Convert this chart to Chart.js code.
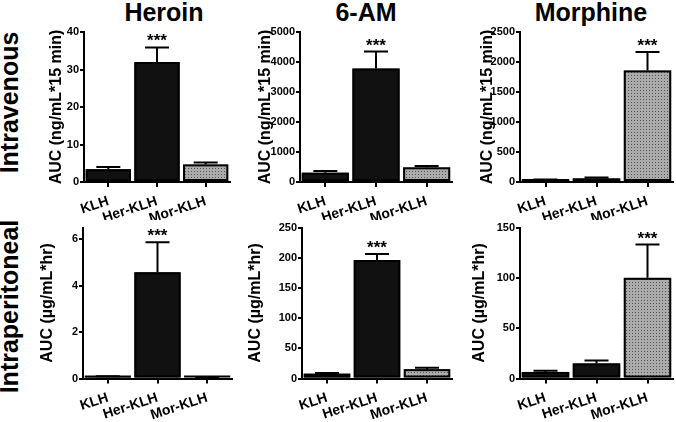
<!DOCTYPE html>
<html>
<head>
<meta charset="utf-8">
<script src="https://cdn.jsdelivr.net/npm/chart.js@4.4.1/dist/chart.umd.min.js"></script>
<style>
  body { margin: 0; background: #fff; }
  #wrap { position: relative; width: 676px; height: 422px; overflow: hidden;
          font-family: "Liberation Sans", Arial, sans-serif; color: #000; }
  #wrap canvas { position: absolute; }
  .col { position: absolute; top: 0; width: 160px; text-align: center;
         font-weight: bold; font-size: 25px; line-height: 25px; }
  .row { position: absolute; width: 220px; height: 25px; text-align: center;
         font-weight: bold; font-size: 25px; line-height: 25px; transform: rotate(-90deg); }
</style>
</head>
<body>
<div id="wrap">
  <div class="col" style="left:84px">Heroin</div>
  <div class="col" style="left:286px">6-AM</div>
  <div class="col" style="left:511px">Morphine</div>
  <div class="row" style="left:-101px; top:90px">Intravenous</div>
  <div class="row" style="left:-101px; top:294px">Intraperitoneal</div>
  <canvas id="c0"></canvas>
  <canvas id="c1"></canvas>
  <canvas id="c2"></canvas>
  <canvas id="c3"></canvas>
  <canvas id="c4"></canvas>
  <canvas id="c5"></canvas>
</div>
<script>
const categories = ["KLH", "Her-KLH", "Mor-KLH"];

// intravenous, AUC ng/mL*15 min
const ivHeroin = [3.4, 32.0, 4.7];
const ivHeroinErr = [4.0, 35.9, 5.2];
const iv6am = [310, 3780, 490];
const iv6amErr = [370, 4350, 530];
const ivMorphine = [30, 60, 1860];
const ivMorphineErr = [40, 75, 2165];

// intraperitoneal, AUC ug/mL*hr
const ipHeroin = [0.07, 4.57, 0.04];
const ipHeroinErr = [0.1, 5.87, 0.05];
const ip6am = [8, 196, 15.5];
const ip6amErr = [9, 206, 18];
const ipMorphine = [6.5, 15, 100];
const ipMorphineErr = [7.8, 18, 133];

// y axis ranges / tick steps
const ivMax = [40, 5000, 2500];
const ivStep = [10, 1000, 500];
const ipMax = [6.5, 250, 150];
const ipStep = [2, 50, 50];

const ivTitle = "AUC (ng/mL*15 min)";
const ipTitle = "AUC (\u00b5g/mL*hr)";

// which bar gets the *** mark
const ivStars = [1, 1, 2];
const ipStars = [1, 1, 2];

const FONT = "'Liberation Sans', Arial, sans-serif";

// dotted grey fill for the Mor-KLH bars
const makeDots = () => {
  const c = document.createElement("canvas");
  c.width = 3;
  c.height = 3;
  const g = c.getContext("2d");
  g.fillStyle = "#ababab";
  g.fillRect(0, 0, 3, 3);
  g.fillStyle = "#555";
  g.fillRect(1, 1, 1, 1);
  return g.createPattern(c, "repeat");
};
const dots = makeDots();

// outlines, upper error bars and *** marks
const errorBars = {
  id: "errorBars",
  afterDatasetsDraw(chart, args, opts) {
    const { ctx } = chart;
    const y = chart.scales.y;
    const meta = chart.getDatasetMeta(0);
    ctx.save();
    ctx.strokeStyle = "#000";
    ctx.fillStyle = "#000";
    ctx.lineWidth = 2;
    meta.data.forEach((bar, i) => {
      const x0 = bar.x - bar.width / 2;
      const hgt = bar.base - bar.y;
      if (hgt > 2) {
        ctx.strokeRect(x0 + 1, bar.y + 1, bar.width - 2, hgt - 2);
      } else {
        ctx.fillRect(x0, bar.base - 2, bar.width, 2);
      }
      const top = y.getPixelForValue(opts.errors[i]);
      ctx.beginPath();
      ctx.moveTo(bar.x, bar.y);
      ctx.lineTo(bar.x, top);
      ctx.moveTo(bar.x - 12, top);
      ctx.lineTo(bar.x + 12, top);
      ctx.stroke();
      if (i === opts.star) {
        ctx.font = "bold 17px " + FONT;
        ctx.textAlign = "center";
        ctx.textBaseline = "alphabetic";
        ctx.fillText("***", bar.x, top - 1);
      }
    });
    ctx.restore();
  },
};

// canvas boxes: left, top, width, height, y axis width, x axis height, top padding
const boxes = [
  [49, 20, 183, 200, 35, 38, 12],
  [258, 20, 196, 200, 42, 38, 12],
  [480, 20, 195, 200, 40, 38, 12],
  [40, 215, 194, 207, 43, 43.5, 12.5],
  [248, 215, 206, 207, 54, 43.5, 12.5],
  [472, 215, 203, 207, 48, 43.5, 12.5],
];

const panels = [
  [ivHeroin, ivHeroinErr, ivMax[0], ivStep[0], ivTitle, ivStars[0]],
  [iv6am, iv6amErr, ivMax[1], ivStep[1], ivTitle, ivStars[1]],
  [ivMorphine, ivMorphineErr, ivMax[2], ivStep[2], ivTitle, ivStars[2]],
  [ipHeroin, ipHeroinErr, ipMax[0], ipStep[0], ipTitle, ipStars[0]],
  [ip6am, ip6amErr, ipMax[1], ipStep[1], ipTitle, ipStars[1]],
  [ipMorphine, ipMorphineErr, ipMax[2], ipStep[2], ipTitle, ipStars[2]],
];

const makeChart = (idx) => {
  const [left, top, w, h, yW, xH, padTop] = boxes[idx];
  const [values, errs, max, step, title, star] = panels[idx];
  const el = document.getElementById("c" + idx);
  el.style.left = left + "px";
  el.style.top = top + "px";
  el.style.width = w + "px";
  el.style.height = h + "px";
  el.width = w;
  el.height = h;

  return new Chart(el, {
    type: "bar",
    data: {
      labels: categories,
      datasets: [
        {
          data: values,
          backgroundColor: ["#111", "#111", dots],
          borderWidth: 0,
          inflateAmount: 0,
          barPercentage: 0.93,
          categoryPercentage: 1,
        },
      ],
    },
    options: {
      responsive: false,
      animation: false,
      events: [],
      layout: { padding: { top: padTop, right: 2, left: 0, bottom: 0 } },
      plugins: {
        legend: { display: false },
        tooltip: { enabled: false },
        errorBars: { errors: errs, star: star },
      },
      scales: {
        x: {
          offset: true,
          afterFit: (s) => { s.height = xH; },
          grid: {
            offset: false,
            drawOnChartArea: false,
            color: "#000",
            lineWidth: 2,
            tickLength: 5,
          },
          border: { display: true, color: "#000", width: 2 },
          ticks: {
            autoSkip: false,
            minRotation: 18,
            maxRotation: 18,
            padding: 6,
            color: "#000",
            font: { family: FONT, size: 14, weight: "bold" },
          },
        },
        y: {
          min: 0,
          max: max,
          afterFit: (s) => { s.width = yW; },
          grid: {
            drawOnChartArea: false,
            color: "#000",
            lineWidth: 2,
            tickLength: 4,
          },
          border: { display: true, color: "#000", width: 2 },
          ticks: {
            stepSize: step,
            includeBounds: false,
            padding: 1,
            color: "#000",
            font: { family: FONT, size: 11, weight: "bold" },
            callback: (v) => String(v),
          },
          title: {
            display: true,
            text: title,
            color: "#000",
            padding: 0,
            font: { family: FONT, size: 16, weight: "bold", lineHeight: 1 },
          },
        },
      },
    },
    plugins: [errorBars],
  });
};

window.addEventListener("DOMContentLoaded", () => {
  for (let i = 0; i < 6; i++) makeChart(i);
});
</script>
</body>
</html>
